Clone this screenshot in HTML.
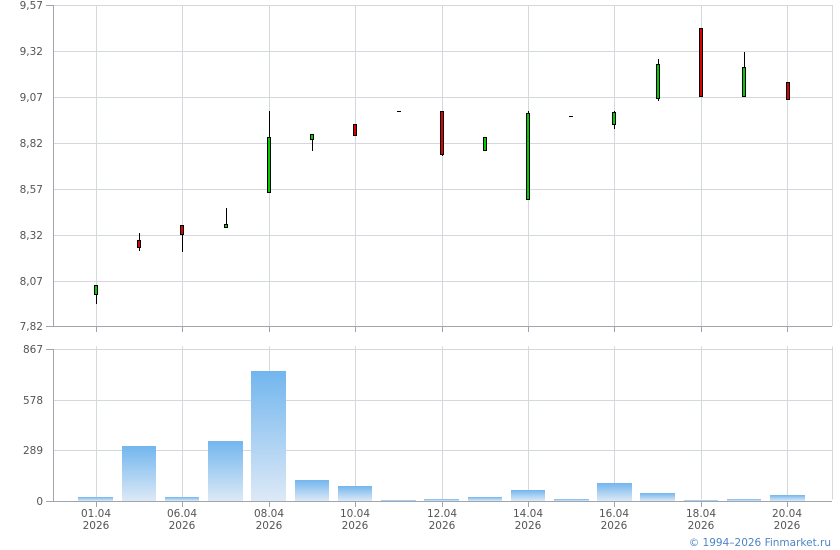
<!DOCTYPE html>
<html><head><meta charset="utf-8"><style>
html,body{margin:0;padding:0;background:#fff;}
svg{display:block;font-family:"DejaVu Sans","Liberation Sans",sans-serif;font-size:10.5px;}
</style></head><body>
<svg width="840" height="550" xmlns="http://www.w3.org/2000/svg">
<defs><linearGradient id="g" x1="0" y1="0" x2="0" y2="1"><stop offset="0" stop-color="#72b6ee"/><stop offset="1" stop-color="#dde9f6"/></linearGradient></defs>
<g stroke="#d3d8dc" stroke-width="1">
<line x1="53" y1="5.5" x2="832" y2="5.5"/><line x1="53" y1="51.5" x2="832" y2="51.5"/><line x1="53" y1="97.5" x2="832" y2="97.5"/><line x1="53" y1="143.5" x2="832" y2="143.5"/><line x1="53" y1="189.5" x2="832" y2="189.5"/><line x1="53" y1="235.5" x2="832" y2="235.5"/><line x1="53" y1="281.5" x2="832" y2="281.5"/>
<line x1="53" y1="349.5" x2="832" y2="349.5"/><line x1="53" y1="400.5" x2="832" y2="400.5"/><line x1="53" y1="450.5" x2="832" y2="450.5"/>
<g id="v"><line x1="96.5" y1="5" x2="96.5" y2="326"/><line x1="182.5" y1="5" x2="182.5" y2="326"/><line x1="269.5" y1="5" x2="269.5" y2="326"/><line x1="355.5" y1="5" x2="355.5" y2="326"/><line x1="442.5" y1="5" x2="442.5" y2="326"/><line x1="528.5" y1="5" x2="528.5" y2="326"/><line x1="614.5" y1="5" x2="614.5" y2="326"/><line x1="701.5" y1="5" x2="701.5" y2="326"/><line x1="787.5" y1="5" x2="787.5" y2="326"/><line x1="832.5" y1="5" x2="832.5" y2="326"/></g>
<g transform="translate(0,344) scale(1,0.4766)"><use href="#v"/></g>
</g>
<g stroke="#a0a4ad" stroke-width="1">
<line x1="53.5" y1="5" x2="53.5" y2="326"/><line x1="46" y1="326.5" x2="832" y2="326.5"/>
<line x1="53.5" y1="349" x2="53.5" y2="501"/><line x1="46" y1="501.5" x2="832" y2="501.5"/>
<line x1="46" y1="5.5" x2="53" y2="5.5"/><line x1="46" y1="349.5" x2="53" y2="349.5"/>
<line x1="96.5" y1="326" x2="96.5" y2="332"/><line x1="182.5" y1="326" x2="182.5" y2="332"/><line x1="269.5" y1="326" x2="269.5" y2="332"/><line x1="355.5" y1="326" x2="355.5" y2="332"/><line x1="442.5" y1="326" x2="442.5" y2="332"/><line x1="528.5" y1="326" x2="528.5" y2="332"/><line x1="614.5" y1="326" x2="614.5" y2="332"/><line x1="701.5" y1="326" x2="701.5" y2="332"/><line x1="787.5" y1="326" x2="787.5" y2="332"/>
<line x1="96.5" y1="501" x2="96.5" y2="507"/><line x1="182.5" y1="501" x2="182.5" y2="507"/><line x1="269.5" y1="501" x2="269.5" y2="507"/><line x1="355.5" y1="501" x2="355.5" y2="507"/><line x1="442.5" y1="501" x2="442.5" y2="507"/><line x1="528.5" y1="501" x2="528.5" y2="507"/><line x1="614.5" y1="501" x2="614.5" y2="507"/><line x1="701.5" y1="501" x2="701.5" y2="507"/><line x1="787.5" y1="501" x2="787.5" y2="507"/>
</g>
<g fill="#555" text-anchor="end">
<text x="43" y="9">9,57</text><text x="43" y="55">9,32</text><text x="43" y="101">9,07</text><text x="43" y="147">8,82</text><text x="43" y="193">8,57</text><text x="43" y="239">8,32</text><text x="43" y="285">8,07</text><text x="43" y="330">7,82</text>
<text x="43" y="353">867</text><text x="43" y="404">578</text><text x="43" y="454">289</text><text x="43" y="505">0</text>
</g>
<g fill="#555" text-anchor="middle">
<text x="96" y="517">01.04</text><text x="96" y="529">2026</text>
<text x="182" y="517">06.04</text><text x="182" y="529">2026</text>
<text x="269" y="517">08.04</text><text x="269" y="529">2026</text>
<text x="355" y="517">10.04</text><text x="355" y="529">2026</text>
<text x="442" y="517">12.04</text><text x="442" y="529">2026</text>
<text x="528" y="517">14.04</text><text x="528" y="529">2026</text>
<text x="614" y="517">16.04</text><text x="614" y="529">2026</text>
<text x="701" y="517">18.04</text><text x="701" y="529">2026</text>
<text x="787" y="517">20.04</text><text x="787" y="529">2026</text>
</g>
<text x="831" y="546" text-anchor="end" fill="#4d86c6">© 1994–2026 Finmarket.ru</text>
<g fill="url(#g)">
<rect x="78" y="497" width="35" height="4"/><rect x="122" y="446" width="34" height="55"/><rect x="165" y="497" width="34" height="4"/><rect x="208" y="441" width="35" height="60"/><rect x="251" y="371" width="35" height="130"/><rect x="295" y="480" width="34" height="21"/><rect x="338" y="486" width="34" height="15"/><rect x="381" y="500" width="35" height="1"/><rect x="424" y="499" width="35" height="2"/><rect x="468" y="497" width="34" height="4"/><rect x="511" y="490" width="34" height="11"/><rect x="554" y="499" width="35" height="2"/><rect x="597" y="483" width="35" height="18"/><rect x="640" y="493" width="35" height="8"/><rect x="684" y="500" width="34" height="1"/><rect x="727" y="499" width="34" height="2"/><rect x="770" y="495" width="35" height="6"/>
</g>
<g stroke="#000" stroke-width="1">
<line x1="96.5" y1="285" x2="96.5" y2="304"/><line x1="139.5" y1="233" x2="139.5" y2="251"/><line x1="182.5" y1="225" x2="182.5" y2="252"/><line x1="226.5" y1="208" x2="226.5" y2="227"/><line x1="269.5" y1="111" x2="269.5" y2="192"/><line x1="312.5" y1="134" x2="312.5" y2="151"/><line x1="442.5" y1="111" x2="442.5" y2="156"/><line x1="528.5" y1="111" x2="528.5" y2="199"/><line x1="614.5" y1="111" x2="614.5" y2="129"/><line x1="658.5" y1="59" x2="658.5" y2="101"/><line x1="744.5" y1="52" x2="744.5" y2="97"/>
<line x1="397" y1="111.5" x2="401" y2="111.5"/><line x1="569" y1="116.5" x2="573" y2="116.5"/>
</g>
<g stroke="#000" stroke-width="1">
<rect x="94.5" y="285.5" width="3" height="9" fill="#0c0"/>
<rect x="137.5" y="240.5" width="3" height="7" fill="#d00"/>
<rect x="180.5" y="225.5" width="3" height="9" fill="#d00"/>
<rect x="224.5" y="224.5" width="3" height="3" fill="#0c0"/>
<rect x="267.5" y="137.5" width="3" height="55" fill="#0c0"/>
<rect x="310.5" y="134.5" width="3" height="5" fill="#0c0"/>
<rect x="353.5" y="124.5" width="3" height="11" fill="#d00"/>
<rect x="440.5" y="111.5" width="3" height="43" fill="#d00"/>
<rect x="483.5" y="137.5" width="3" height="13" fill="#0c0"/>
<rect x="526.5" y="113.5" width="3" height="86" fill="#0c0"/>
<rect x="612.5" y="112.5" width="3" height="12" fill="#0c0"/>
<rect x="656.5" y="64.5" width="3" height="34" fill="#0c0"/>
<rect x="699.5" y="28.5" width="3" height="68" fill="#d00"/>
<rect x="742.5" y="67.5" width="3" height="29" fill="#0c0"/>
<rect x="786.5" y="82.5" width="3" height="17" fill="#d00"/>
</g>
</svg>
</body></html>
